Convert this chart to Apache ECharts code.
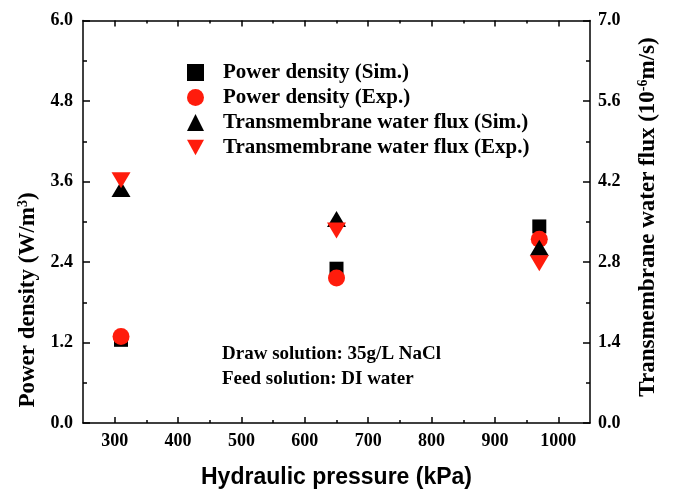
<!DOCTYPE html>
<html><head><meta charset="utf-8">
<script src="https://cdn.jsdelivr.net/npm/echarts@6/dist/echarts.min.js"></script>
<style>html,body{margin:0;padding:0;background:#fff}#c{width:673px;height:494px}</style>
</head><body><div id="c"></div>
<script>
const pressure = [310, 650, 970];
const powerSim = [1.24, 2.30, 2.93];
const powerExp = [1.29, 2.16, 2.74];
const fluxSim = [4.07, 3.55, 3.05];
const fluxExp = [4.22, 3.35, 2.78];
const xMajor = [300, 400, 500, 600, 700, 800, 900, 1000];
const xMinor = [350, 450, 550, 650, 750, 850, 950];
const yLMajor = [0, 1.2, 2.4, 3.6, 4.8, 6.0];
const yLMinor = [0.6, 1.8, 3.0, 4.2, 5.4];
const yRMajor = [0, 1.4, 2.8, 4.2, 5.6, 7.0];
const yRMinor = [0.7, 2.1, 3.5, 4.9, 6.3];
const names = ['Power density (Sim.)', 'Power density (Exp.)', 'Transmembrane water flux (Sim.)', 'Transmembrane water flux (Exp.)'];
const notes = ['Draw solution: 35g/L NaCl', 'Feed solution: DI water'];

const serif = '"Liberation Serif", "Times New Roman", serif';
const red = '#ff1c0c';
const lineStyle = {color: '#000', width: 1.5};
const labelStyle = {fontFamily: serif, fontWeight: 'bold', fontSize: 18, color: '#000'};
const downTri = 'path://M0,0 L10,0 L5,9 Z';

function xAx(pos, vals, len, showLine, showLabel) {
  return {type: 'value', position: pos, min: 250, max: 1050, gridIndex: 0,
    axisLine: {show: showLine, lineStyle: lineStyle, onZero: false},
    splitLine: {show: false},
    axisTick: {show: true, inside: true, length: len, customValues: vals, lineStyle: lineStyle},
    axisLabel: {show: showLabel, customValues: vals, margin: 9, formatter: v => String(v), ...labelStyle}};
}
function yAx(pos, min, max, vals, len, showLine, showLabel, margin) {
  return {type: 'value', position: pos, min: min, max: max, gridIndex: 0,
    axisLine: {show: showLine, lineStyle: lineStyle, onZero: false},
    splitLine: {show: false},
    axisTick: {show: true, inside: true, length: len, customValues: vals, lineStyle: lineStyle},
    axisLabel: {show: showLabel, customValues: vals, margin: margin || 8, formatter: v => v.toFixed(1), ...labelStyle}};
}

const titleRich = {
  a: {fontFamily: serif, fontWeight: 'bold', fontSize: 23, fill: '#000', color: '#000'},
  s: {fontFamily: serif, fontWeight: 'bold', fontSize: 14, fill: '#000', color: '#000', verticalAlign: 'top', padding: [0, 0, 10, 0]}
};

const chart = echarts.init(document.getElementById('c'));
chart.setOption({
  animation: false,
  backgroundColor: '#fff',
  grid: {left: 83, right: 83, top: 20.5, bottom: 67.5},
  xAxis: [
    Object.assign(xAx('bottom', xMajor, 6, true, true), {
      name: 'Hydraulic pressure (kPa)', nameLocation: 'middle', nameGap: 43,
      nameTextStyle: {fontFamily: '"Liberation Sans", Arial, sans-serif', fontWeight: 'bold', fontSize: 23, color: '#000'}}),
    xAx('bottom', xMinor, 3, false, false),
    xAx('top', xMajor, 6, true, false),
    xAx('top', xMinor, 3, false, false)
  ],
  yAxis: [
    yAx('left', 0, 6, yLMajor, 7, true, true, 10),
    yAx('left', 0, 6, yLMinor, 4, false, false),
    yAx('right', 0, 7, yRMajor, 7, true, true, 8),
    yAx('right', 0, 7, yRMinor, 4, false, false)
  ],
  legend: {
    orient: 'vertical', left: 182, top: 57, itemGap: 4, itemWidth: 17, itemHeight: 17,
    data: [
      {name: names[0], icon: 'rect', itemStyle: {color: '#000'}},
      {name: names[1], icon: 'circle', itemStyle: {color: red}},
      {name: names[2], icon: 'triangle', itemStyle: {color: '#000'}},
      {name: names[3], icon: downTri, itemStyle: {color: red}}
    ],
    textStyle: {fontFamily: serif, fontWeight: 'bold', fontSize: 21, color: '#000', padding: [0, 0, 0, 14]}
  },
  graphic: [
    {type: 'text', left: 222, top: 345, style: {text: notes[0], font: 'bold 19px ' + serif, fill: '#000'}},
    {type: 'text', left: 222, top: 370, style: {text: notes[1], font: 'bold 19px ' + serif, fill: '#000'}},
    {type: 'text', x: 28, y: 300, rotation: Math.PI / 2,
      style: {text: '{a|Power density (W/m}{s|3}{a|)}', rich: titleRich, align: 'center', verticalAlign: 'middle'}},
    {type: 'text', x: 648, y: 217, rotation: Math.PI / 2,
      style: {text: '{a|Transmembrane water flux (10}{s|-6}{a|m/s)}', rich: titleRich, align: 'center', verticalAlign: 'middle'}}
  ],
  series: [
    {name: names[0], type: 'scatter', xAxisIndex: 0, yAxisIndex: 0, symbol: 'rect', symbolSize: 14,
      itemStyle: {color: '#000', opacity: 1}, data: pressure.map((p, i) => [p, powerSim[i]])},
    {name: names[1], type: 'scatter', xAxisIndex: 0, yAxisIndex: 0, symbol: 'circle', symbolSize: 17,
      itemStyle: {color: red, opacity: 1}, data: pressure.map((p, i) => [p, powerExp[i]])},
    {name: names[2], type: 'scatter', xAxisIndex: 0, yAxisIndex: 2, symbol: 'triangle', symbolSize: [19, 16],
      itemStyle: {color: '#000', opacity: 1}, data: pressure.map((p, i) => [p, fluxSim[i]])},
    {name: names[3], type: 'scatter', xAxisIndex: 0, yAxisIndex: 2, symbol: 'triangle', symbolRotate: 180, symbolSize: [19, 16],
      itemStyle: {color: red, opacity: 1}, data: pressure.map((p, i) => [p, fluxExp[i]])}
  ]
});
</script></body></html>
